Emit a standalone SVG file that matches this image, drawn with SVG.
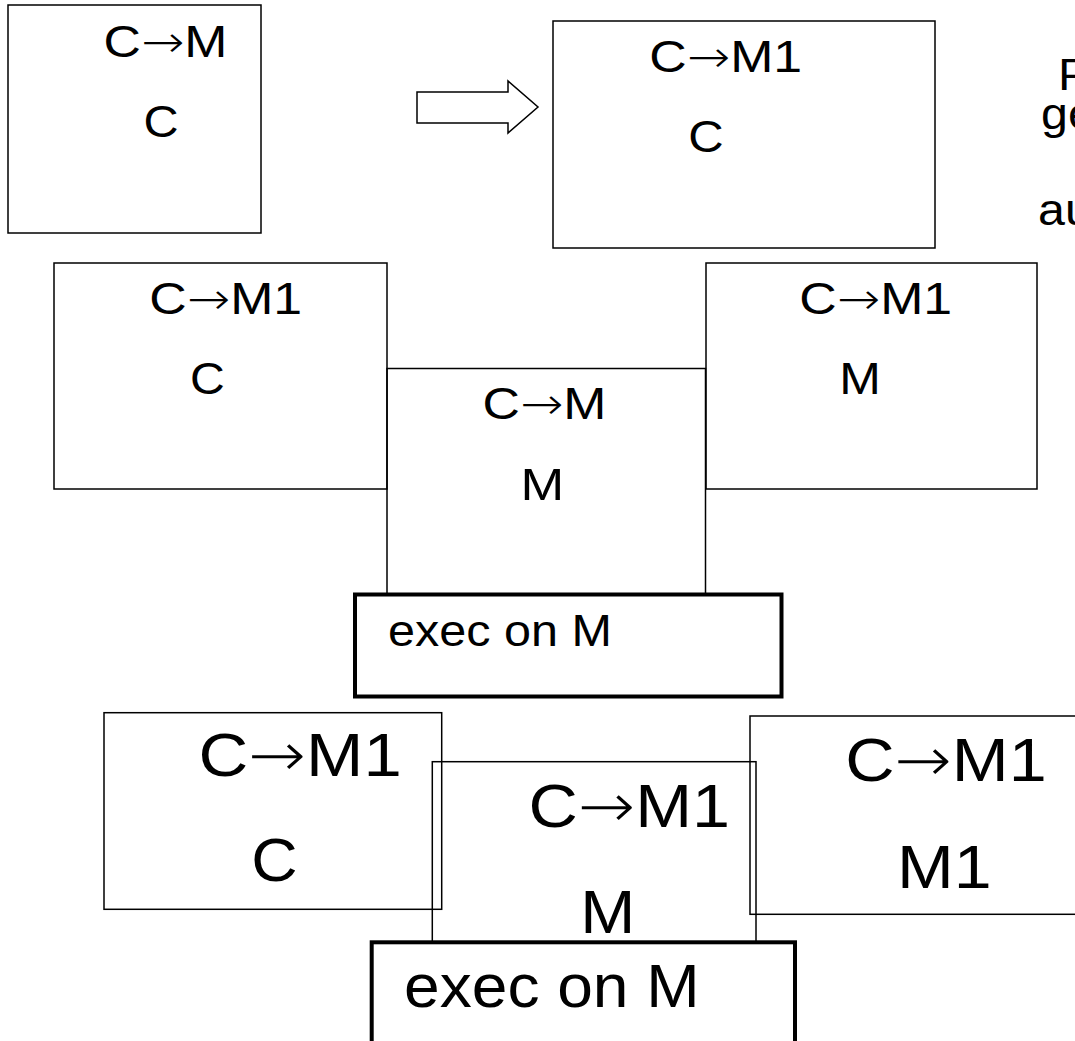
<svg xmlns="http://www.w3.org/2000/svg" width="1075" height="1041" viewBox="0 0 1075 1041">
  <style>
    .box { fill: none; stroke: #000; stroke-width: 1.5; }
    .exec { fill: #fff; stroke: #000; stroke-width: 4; }
    .lbl { font-family: "Liberation Sans", Arial, sans-serif; fill: #000; }
    .arr { font-family: "DejaVu Sans", sans-serif; font-weight: 200; }
    .s1 { font-size: 44px; }
    .s2 { font-size: 61px; }
    .blk { fill: #fff; stroke: #000; stroke-width: 1.5; stroke-linejoin: miter; }
  </style>
  <rect width="1075" height="1041" fill="#fff"/>

  <!-- first row: rename step -->
  <g id="ctx-before">
    <rect class="box" x="8" y="5" width="253" height="228"/>
    <text class="lbl s1" x="103.6" y="57" textLength="123.9" lengthAdjust="spacingAndGlyphs">C<tspan class="arr">→</tspan>M</text>
    <text class="lbl s1" x="143.6" y="137" textLength="35.1" lengthAdjust="spacingAndGlyphs">C</text>
  </g>
  <g id="ctx-after">
    <rect class="box" x="553" y="21" width="382" height="227"/>
    <text class="lbl s1" x="649.3" y="71.5" textLength="152.9" lengthAdjust="spacingAndGlyphs">C<tspan class="arr">→</tspan>M1</text>
    <text class="lbl s1" x="688.3" y="151.5" textLength="35.4" lengthAdjust="spacingAndGlyphs">C</text>
  </g>
  <g id="side-note">
    <text class="lbl s1" x="1058" y="90" textLength="32.3" lengthAdjust="spacingAndGlyphs">P</text>
    <text class="lbl s1" x="1041" y="128.5" textLength="53.8" lengthAdjust="spacingAndGlyphs">ge</text>
    <text class="lbl s1" x="1038" y="225" textLength="53.8" lengthAdjust="spacingAndGlyphs">au</text>
  </g>

  <!-- second row -->
  <g id="row2-client">
    <rect class="box" x="54" y="263" width="333" height="226"/>
    <text class="lbl s1" x="149.3" y="314" textLength="152.9" lengthAdjust="spacingAndGlyphs">C<tspan class="arr">→</tspan>M1</text>
    <text class="lbl s1" x="189.9" y="394" textLength="34.8" lengthAdjust="spacingAndGlyphs">C</text>
  </g>
  <g id="row2-server">
    <rect class="box" x="387" y="368.5" width="318.5" height="227.5"/>
    <text class="lbl s1" x="482.6" y="419" textLength="123.9" lengthAdjust="spacingAndGlyphs">C<tspan class="arr">→</tspan>M</text>
    <text class="lbl s1" x="520.5" y="500" textLength="43.7" lengthAdjust="spacingAndGlyphs">M</text>
  </g>
  <g id="row2-new">
    <rect class="box" x="706" y="263" width="331" height="226"/>
    <text class="lbl s1" x="799.3" y="314" textLength="152.9" lengthAdjust="spacingAndGlyphs">C<tspan class="arr">→</tspan>M1</text>
    <text class="lbl s1" x="839.2" y="394" textLength="41.6" lengthAdjust="spacingAndGlyphs">M</text>
  </g>
  <g id="row2-exec">
    <rect class="exec" x="355" y="594.5" width="426.5" height="102"/>
    <text class="lbl s1" x="388.1" y="645.7" textLength="223.7" lengthAdjust="spacingAndGlyphs">exec on M</text>
  </g>

  <!-- third row -->
  <g id="row3-client">
    <rect class="box" x="104" y="712.7" width="337.7" height="196.6"/>
    <text class="lbl s2" x="198.6" y="776" textLength="203.1" lengthAdjust="spacingAndGlyphs">C<tspan class="arr">→</tspan>M1</text>
    <text class="lbl s2" x="251.2" y="881" textLength="46.4" lengthAdjust="spacingAndGlyphs">C</text>
  </g>
  <g id="row3-server">
    <rect class="box" x="432.3" y="761.7" width="323.7" height="181"/>
    <text class="lbl s2" x="528.6" y="826.7" textLength="201.4" lengthAdjust="spacingAndGlyphs">C<tspan class="arr">→</tspan>M1</text>
    <text class="lbl s2" x="580.3" y="933" textLength="55.1" lengthAdjust="spacingAndGlyphs">M</text>
  </g>
  <g id="row3-new">
    <rect class="box" x="750" y="716" width="340" height="198.3"/>
    <text class="lbl s2" x="845.2" y="781" textLength="201.5" lengthAdjust="spacingAndGlyphs">C<tspan class="arr">→</tspan>M1</text>
    <text class="lbl s2" x="897" y="888" textLength="94.7" lengthAdjust="spacingAndGlyphs">M1</text>
  </g>
  <g id="row3-exec">
    <rect class="exec" x="371.7" y="942.3" width="423.3" height="130"/>
    <text class="lbl s2" x="404.1" y="1006.7" textLength="295.6" lengthAdjust="spacingAndGlyphs">exec on M</text>
  </g>

  <!-- connectors -->
  <g id="connectors">
    <path class="blk" d="M417,92 L508,92 L508,81 L538,107 L508,133 L508,123 L417,123 Z"/>
  </g>
</svg>
